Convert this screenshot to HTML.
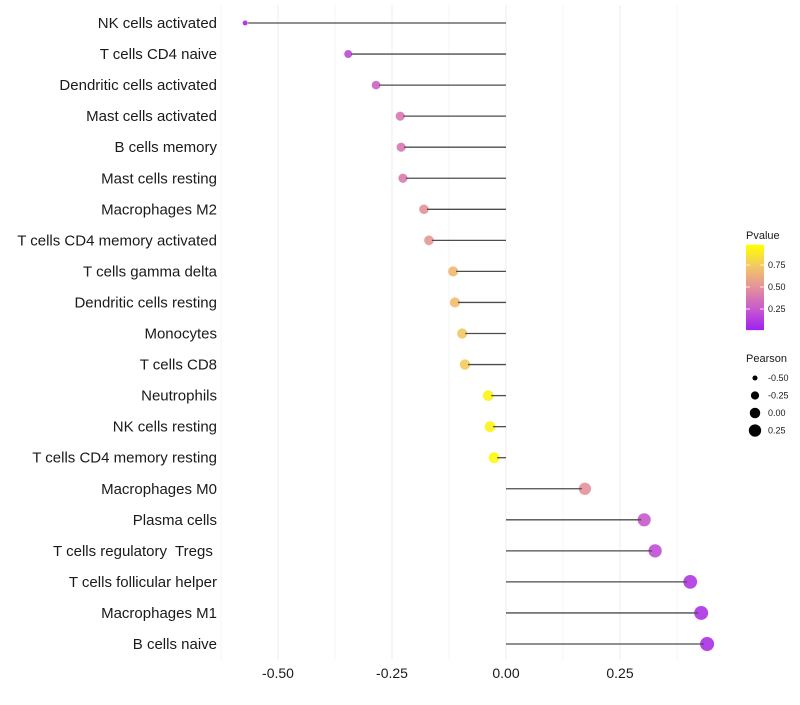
<!DOCTYPE html>
<html><head><meta charset="utf-8"><style>
body{margin:0;background:#fff;font-family:"Liberation Sans",sans-serif}
svg text{font-family:"Liberation Sans",sans-serif}
</style></head><body>
<svg id="chart" width="800" height="700"></svg>
<script>
const categories=["NK cells activated","T cells CD4 naive","Dendritic cells activated","Mast cells activated","B cells memory","Mast cells resting","Macrophages M2","T cells CD4 memory activated","T cells gamma delta","Dendritic cells resting","Monocytes","T cells CD8","Neutrophils","NK cells resting","T cells CD4 memory resting","Macrophages M0","Plasma cells","T cells regulatory  Tregs ","T cells follicular helper","Macrophages M1","B cells naive"];
const pearson=[-0.572,-0.346,-0.285,-0.232,-0.230,-0.226,-0.180,-0.169,-0.116,-0.112,-0.096,-0.090,-0.039,-0.035,-0.026,0.173,0.303,0.327,0.404,0.428,0.441];
const pvalue=[0.03,0.18,0.28,0.38,0.38,0.40,0.50,0.53,0.68,0.70,0.75,0.77,0.95,0.95,0.97,0.50,0.25,0.20,0.10,0.08,0.07];
const xTicks=[-0.5,-0.25,0,0.25];
const xTickLabels=["-0.50","-0.25","0.00","0.25"];
const legendP=[0.75,0.5,0.25];
const legendPLabels=["0.75","0.50","0.25"];
const legendR=[-0.5,-0.25,0,0.25];
const legendRLabels=["-0.50","-0.25","0.00","0.25"];

const NS="http://www.w3.org/2000/svg";
const svg=document.getElementById('chart');
function mk(t,a,p){const e=document.createElementNS(NS,t);for(const k in a)e.setAttribute(k,a[k]);(p||svg).appendChild(e);return e;}
const X=v=>506+v*456;
const Y=i=>23+i*31.05;
const R=v=>Math.sqrt(Math.max(2.25,30.5+42*v));
const stops=[[0,[160,32,240]],[0.25,[200,90,205]],[0.5,[228,145,155]],[0.75,[242,200,100]],[1,[255,255,0]]];
function col(p){
  p=Math.max(0,Math.min(1,p));
  let k=0;while(k<stops.length-2&&p>stops[k+1][0])k++;
  const a=stops[k],b=stops[k+1];const t=(p-a[0])/(b[0]-a[0]);
  return 'rgb('+a[1].map((c,j)=>Math.round(c+(b[1][j]-c)*t)).join(',')+')';
}
for(let v=-0.625;v<=0.45;v+=0.125){
  const g=mk('line',{x1:X(v),x2:X(v),y1:5,y2:660,stroke:'#ededed','stroke-width':(Math.abs(v/0.25-Math.round(v/0.25))<0.01)?1:0.6});
  
}
categories.forEach((c,i)=>{
  const y=Y(i);
  const t=mk('text',{x:217,y:y+5,'text-anchor':'end','font-size':15,fill:'#1a1a1a','xml:space':'preserve'});
  t.style.whiteSpace='pre';
  t.textContent=c;
});
categories.forEach((c,i)=>{
  const y=Y(i);
  const d=mk('circle',{cx:X(pearson[i]),cy:y,r:R(pearson[i]),fill:col(pvalue[i]),'fill-opacity':0.9});
  
  const s=mk('line',{x1:X(0),x2:X(pearson[i])+(pearson[i]<0?3:-3),y1:y,y2:y,stroke:'#4d4d4d','stroke-width':1.3});
  
});
xTicks.forEach((v,i)=>{
  const t=mk('text',{x:X(v),y:678,'text-anchor':'middle','font-size':14,fill:'#1a1a1a'});
  t.textContent=xTickLabels[i];
});
let lt=mk('text',{x:746,y:239,'font-size':11,fill:'#1a1a1a'});lt.textContent='Pvalue';

const defs=mk('defs',{});const lg=mk('linearGradient',{id:'pg',x1:0,y1:1,x2:0,y2:0},defs);
[0,0.25,0.5,0.75,1].forEach(p=>mk('stop',{offset:p,'stop-color':col(p)},lg));
const PY=p=>287-(p-0.5)*88;
const cb=mk('rect',{x:746,y:PY(0.98),width:18,height:PY(0.01)-PY(0.98),fill:'url(#pg)'});

legendP.forEach((p,i)=>{
  mk('line',{x1:746,x2:750,y1:PY(p),y2:PY(p),stroke:'#fff','stroke-width':0.8});
  mk('line',{x1:760,x2:764,y1:PY(p),y2:PY(p),stroke:'#fff','stroke-width':0.8});
  const t=mk('text',{x:768,y:PY(p)+3,'font-size':9,fill:'#1a1a1a'});t.textContent=legendPLabels[i];
  
});
lt=mk('text',{x:746,y:362,'font-size':11,fill:'#1a1a1a'});lt.textContent='Pearson';

legendR.forEach((v,i)=>{
  const y=378+i*17.5;
  const c=mk('circle',{cx:755,cy:y,r:Math.sqrt(Math.max(2.25,8+52*(v+0.5)))*0.9,fill:'#000'});
  
  const t=mk('text',{x:768,y:y+3,'font-size':9,fill:'#1a1a1a'});t.textContent=legendRLabels[i];
  
});
</script>
</body></html>
